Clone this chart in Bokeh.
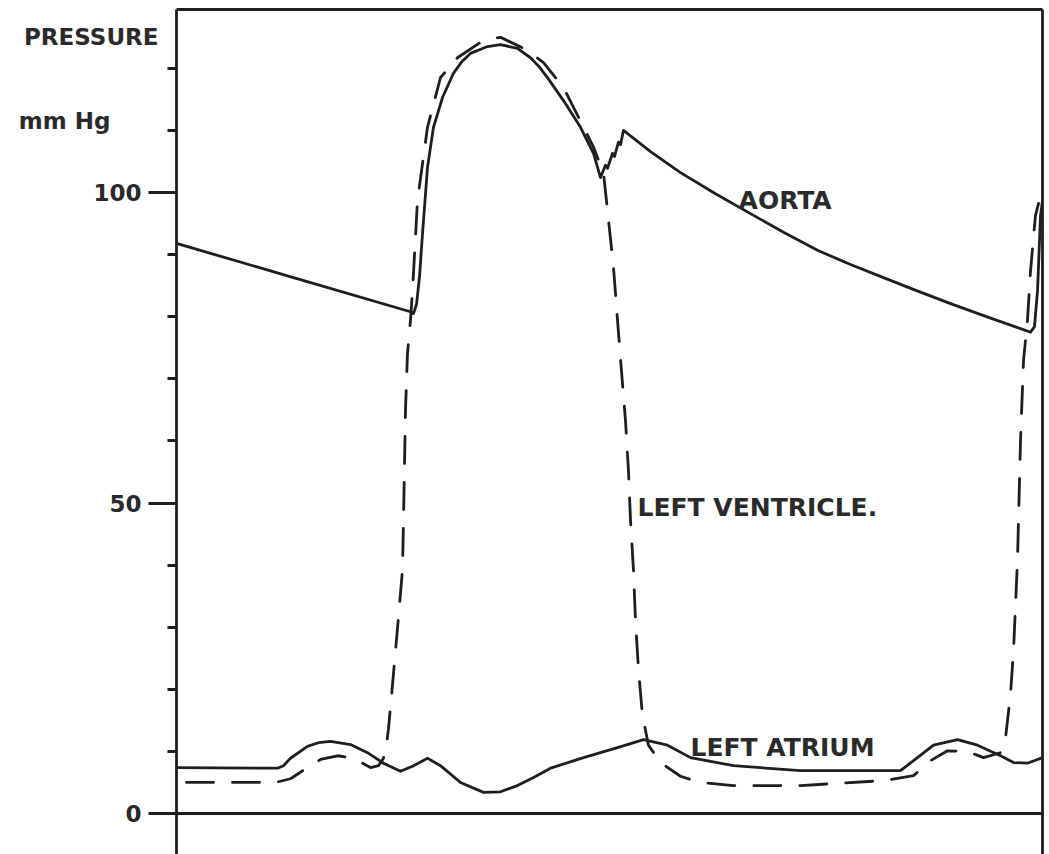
from bokeh.plotting import figure
from bokeh.models import LinearAxis, FixedTicker, Span, Label, Range1d
from bokeh.embed import file_html
from bokeh.resources import INLINE

# Pressure traces over one cardiac cycle: (time in s, pressure in mm Hg)
aorta = [
    (0.0000, 91.8), (0.1486, 86.3), (0.2972, 80.8), (0.3010, 80.5), (0.3049, 82.0),
    (0.3087, 86.5), (0.3125, 93.4), (0.3188, 104.0), (0.3264, 110.5), (0.3379, 115.3),
    (0.3518, 119.2), (0.3620, 121.0), (0.3734, 122.4), (0.3950, 123.5), (0.4115, 123.8),
    (0.4331, 123.2), (0.4497, 121.7), (0.4610, 120.2), (0.4712, 118.5), (0.4916, 114.8),
    (0.5132, 110.5), (0.5297, 106.3), (0.5386, 102.4), (0.5449, 104.4), (0.5475, 103.9),
    (0.5538, 106.3), (0.5564, 105.8), (0.5614, 108.1), (0.5640, 107.7), (0.5678, 110.0),
    (0.6021, 106.6), (0.6402, 103.2), (0.6846, 99.8), (0.7291, 96.6), (0.7710, 93.6),
    (0.8142, 90.7), (0.8561, 88.4), (0.8980, 86.3), (0.9400, 84.2), (0.9832, 82.1),
    (1.0314, 79.9), (1.0784, 77.8), (1.0848, 77.5), (1.0898, 78.4), (1.0937, 84.2),
    (1.0975, 96.3), (1.1000, 98.7),
]

left_ventricle = [
    (0.0127, 5.0), (0.1258, 5.0), (0.1448, 5.6), (0.1664, 7.4), (0.1829, 8.7),
    (0.2045, 9.3), (0.2210, 9.0), (0.2363, 8.1), (0.2464, 7.4), (0.2566, 7.7),
    (0.2629, 8.9), (0.2667, 11.0), (0.2693, 13.7), (0.2756, 22.5), (0.2820, 31.7),
    (0.2871, 39.3), (0.2883, 47.2), (0.2896, 56.2), (0.2909, 65.1), (0.2934, 74.1),
    (0.2972, 79.4), (0.2998, 84.2), (0.3061, 98.7), (0.3188, 110.5), (0.3353, 118.5),
    (0.3569, 121.7), (0.3900, 124.5), (0.4115, 125.0), (0.4458, 122.9), (0.4662, 120.9),
    (0.4916, 116.9), (0.5170, 110.5), (0.5297, 107.3), (0.5424, 103.1), (0.5475, 97.1),
    (0.5551, 87.9), (0.5602, 79.4), (0.5652, 71.3), (0.5703, 63.3), (0.5741, 55.2),
    (0.5767, 47.2), (0.5805, 39.1), (0.5830, 31.1), (0.5869, 23.0), (0.5919, 15.8),
    (0.5995, 11.0), (0.6148, 8.2), (0.6402, 6.0), (0.6656, 5.0), (0.7075, 4.5),
    (0.7926, 4.5), (0.8980, 5.3), (0.9361, 6.1), (0.9577, 8.5), (0.9793, 10.1),
    (1.0047, 10.0), (1.0251, 9.0), (1.0467, 9.8), (1.0530, 12.1), (1.0594, 19.3),
    (1.0632, 26.3), (1.0682, 40.7), (1.0721, 60.1), (1.0759, 73.0), (1.0809, 79.4),
    (1.0848, 87.4), (1.0911, 96.3), (1.0975, 99.5),
]

left_atrium = [
    (0.0000, 7.4), (0.1283, 7.3), (0.1359, 7.7), (0.1448, 8.9), (0.1664, 10.8),
    (0.1803, 11.4), (0.1956, 11.6), (0.2210, 11.1), (0.2426, 9.8), (0.2629, 8.1),
    (0.2845, 6.8), (0.2998, 7.6), (0.3188, 8.9), (0.3353, 7.7), (0.3607, 5.0),
    (0.3900, 3.4), (0.4115, 3.5), (0.4331, 4.5), (0.4535, 5.8), (0.4751, 7.3),
    (0.5170, 9.0), (0.5602, 10.6), (0.5932, 11.9), (0.6237, 11.0), (0.6529, 9.0),
    (0.7075, 7.7), (0.7926, 6.9), (0.9196, 6.9), (0.9412, 9.0), (0.9615, 11.0),
    (0.9920, 11.9), (1.0174, 11.0), (1.0467, 9.3), (1.0632, 8.2), (1.0809, 8.1),
    (1.1000, 9.0),
]

major_ticks = [0, 50, 100]
minor_ticks = [10, 20, 30, 40, 60, 70, 80, 90, 110, 120]

# axis caption lines, each at its height on the pressure scale
caption_pressure = (125.0, "PRESSURE")
caption_unit = (111.5, "mm Hg")

INK = "#1e1e1e"
TEXT = "#2a2a2a"
FONT = "DejaVu Sans"
LW = 2.8

p = figure(
    width=1049, height=854,
    output_backend="svg", toolbar_location=None,
    x_range=Range1d(0, 1.1), y_range=Range1d(-6.6, 129.47),
    x_axis_location=None, y_axis_location="left",
    min_border_left=176, min_border_right=7, min_border_top=9, min_border_bottom=0,
    background_fill_color="white", border_fill_color="white",
    outline_line_color=None,
)
p.grid.visible = False

# spine with long ticks at 0/50/100 and short ticks every 10 mm Hg
yax = p.yaxis[0]
yax.ticker = FixedTicker(ticks=major_ticks, minor_ticks=minor_ticks)
yax.axis_line_width = LW
yax.axis_line_color = INK
yax.major_tick_in = 0
yax.major_tick_out = 28
yax.minor_tick_in = 0
yax.minor_tick_out = 9
yax.major_tick_line_width = LW
yax.minor_tick_line_width = LW
yax.major_tick_line_color = INK
yax.minor_tick_line_color = INK
yax.major_label_overrides = {t: "" for t in major_ticks}
yax.major_label_standoff = 0


def text_axis(ticks, overrides, standoff, size):
    """A left axis that only carries labels (no spine, no tick marks)."""
    ax = LinearAxis(
        ticker=FixedTicker(ticks=ticks, minor_ticks=[]),
        axis_line_color=None,
        major_tick_in=0, major_tick_out=0, minor_tick_in=0, minor_tick_out=0,
        major_tick_line_color=None, minor_tick_line_color=None,
        major_label_text_font=FONT, major_label_text_font_size=size,
        major_label_text_font_style="bold", major_label_text_color=TEXT,
        major_label_standoff=standoff,
    )
    if overrides:
        ax.major_label_overrides = overrides
    return ax


# numeric tick labels, then the two caption lines further out
p.add_layout(text_axis(major_ticks, None, 7, "23px"), "left")
p.add_layout(text_axis([caption_unit[0]], {caption_unit[0]: caption_unit[1]}, -20, "23px"), "left")
p.add_layout(text_axis([caption_pressure[0]], {caption_pressure[0]: caption_pressure[1]}, -143, "23px"), "left")

# plain frame lines along the top and right edges
for side in ("above", "right"):
    ax = LinearAxis(
        ticker=FixedTicker(ticks=[]),
        axis_line_width=LW, axis_line_color=INK,
        major_tick_in=0, major_tick_out=0, minor_tick_in=0, minor_tick_out=0,
        major_label_text_font_size="0px", major_label_standoff=0,
    )
    p.add_layout(ax, side)

p.add_layout(Span(location=0, dimension="width", line_color=INK, line_width=LW))


def unzip(pts):
    return [a for a, _ in pts], [b for _, b in pts]


t, v = unzip(aorta)
p.line(t, v, line_color=INK, line_width=LW, line_join="round", line_cap="round")
t, v = unzip(left_atrium)
p.line(t, v, line_color=INK, line_width=LW, line_join="round", line_cap="round")
t, v = unzip(left_ventricle)
p.line(t, v, line_color=INK, line_width=LW, line_dash="27 19", line_join="round",
       line_cap="round")

curve_labels = [
    ("AORTA", 0.7139, 98.7),
    ("LEFT VENTRICLE.", 0.5856, 49.3),
    ("LEFT ATRIUM", 0.6529, 10.6),
]
for text, x, y in curve_labels:
    p.add_layout(Label(
        x=x, y=y, text=text, text_font=FONT, text_font_size="25px",
        text_font_style="bold", text_color=TEXT, text_align="left",
        text_baseline="alphabetic",
    ))

open("out.html", "w").write(file_html(p, INLINE))
